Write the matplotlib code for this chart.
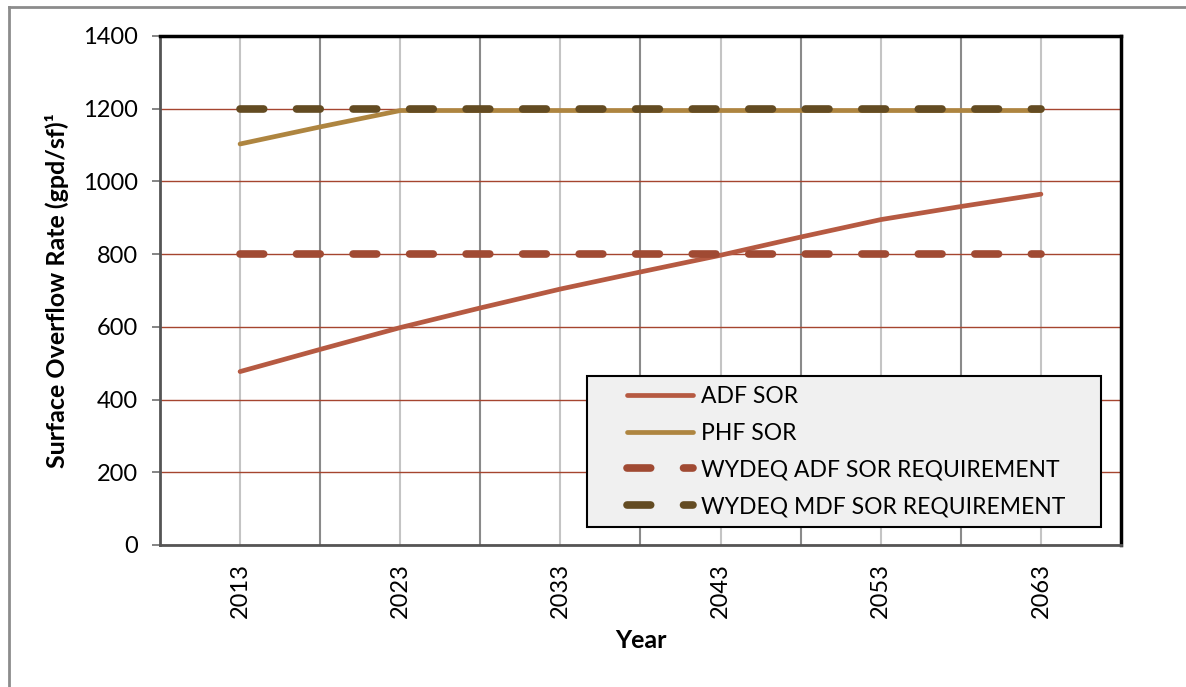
import matplotlib
matplotlib.use("Agg")
import matplotlib.pyplot as plt
from matplotlib.lines import Line2D
from matplotlib.legend_handler import HandlerLine2D

plt.rcParams['font.family'] = ['Lato', 'DejaVu Sans']

# data (5-year steps)
years = [2013, 2018, 2023, 2028, 2033, 2038, 2043, 2048, 2053, 2058, 2063]
adf_sor = [477, 538, 598, 652, 704, 751, 797, 847, 895, 931, 965]
phf_sor = [1103, 1150, 1195, 1195, 1195, 1195, 1195, 1195, 1195, 1195, 1195]
wydeq_adf = [800] * len(years)
wydeq_mdf = [1200] * len(years)
label_years = [2013, 2023, 2033, 2043, 2053, 2063]

fig = plt.figure(figsize=(11.86, 6.87), dpi=100)
ax = fig.add_axes([0.1349, 0.2067, 0.8103, 0.7409])

dash = (0, (3.1, 4.3))
ax.plot(years, adf_sor, color='#B65A42', lw=3.4, solid_capstyle='round', label='ADF SOR', zorder=3)
ax.plot(years, phf_sor, color='#AE8540', lw=3.4, solid_capstyle='round', label='PHF SOR', zorder=3)
ax.plot(years, wydeq_adf, color='#A04A33', lw=5.5, ls=dash, dash_capstyle='round',
        label='WYDEQ ADF SOR REQUIREMENT', zorder=4)
ax.plot(years, wydeq_mdf, color='#634B22', lw=5.5, ls=dash, dash_capstyle='round',
        label='WYDEQ MDF SOR REQUIREMENT', zorder=4)

ax.set_xlim(2008, 2068)
ax.set_ylim(0, 1400)
ax.set_yticks(range(0, 1401, 200))
ax.set_xticks(label_years)
ax.set_xticks([2018, 2028, 2038, 2048, 2058], minor=True)
ax.set_xticklabels([str(y) for y in label_years], rotation=90)

ax.grid(axis='y', color='#A5452F', lw=1.0, zorder=1)
ax.grid(axis='x', which='major', color='#C4C4C4', lw=1.5, zorder=1)
ax.grid(axis='x', which='minor', color='#8A8A8A', lw=1.5, zorder=1)
ax.set_axisbelow(True)

ax.tick_params(axis='y', labelsize=17, length=6, width=1.2, color='#707070', pad=10)
ax.tick_params(axis='x', which='both', labelsize=17, length=0, pad=13)

for s in ['top', 'right']:
    ax.spines[s].set_color('black')
    ax.spines[s].set_linewidth(2.5)
for s in ['left', 'bottom']:
    ax.spines[s].set_color('#555555')
    ax.spines[s].set_linewidth(2.0)

ax.set_ylabel('Surface Overflow Rate (gpd/sf)¹', fontsize=18, fontweight='bold', labelpad=10)
ax.set_xlabel('Year', fontsize=18, fontweight='bold', labelpad=8)

hmap = {l: HandlerLine2D(xpad=1.3) for l in ax.get_lines()}
leg = ax.legend(loc='upper left', bbox_to_anchor=(0.444, 0.332, 0.535, 0.0), mode='expand',
                fontsize=16.5, frameon=True, fancybox=False, handlelength=4.21, handletextpad=0.35,
                borderaxespad=0, borderpad=0.45, labelspacing=0.68, handler_map=hmap)
leg.get_frame().set_facecolor('#F0F0F0')
leg.get_frame().set_edgecolor('black')
leg.get_frame().set_linewidth(1.5)
leg.get_frame().set_alpha(1)

# outer chart-area border
fig.add_artist(Line2D([0.0075, 0.0075], [0.0, 0.99], transform=fig.transFigure, color='#8C8C8C', lw=2))
fig.add_artist(Line2D([0.0075, 1.0], [0.99, 0.99], transform=fig.transFigure, color='#8C8C8C', lw=2))

fig.savefig('out.png', dpi=100)
